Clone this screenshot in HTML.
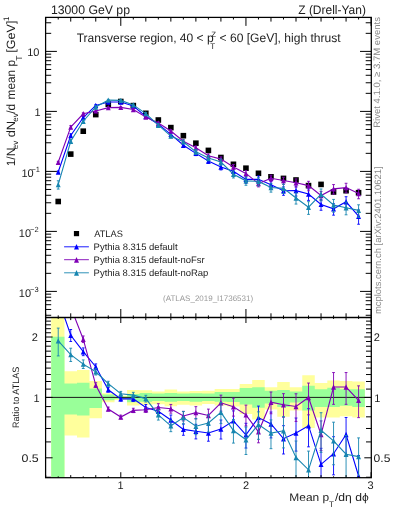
<!DOCTYPE html><html><head><meta charset="utf-8"><style>html,body{margin:0;padding:0;background:#fff;width:393px;height:512px;overflow:hidden}svg{display:block;will-change:transform}text{font-family:"Liberation Sans",sans-serif;text-rendering:geometricPrecision}</style></head><body>
<svg width="393" height="512" viewBox="0 0 393 512">
<defs><clipPath id="cm"><rect x="45.7" y="17.4" width="325.40000000000003" height="300.1"/></clipPath><clipPath id="cr"><rect x="45.7" y="317.5" width="325.40000000000003" height="160.2"/></clipPath></defs>
<g id="ratio" clip-path="url(#cr)">
<path d="M51.20 300.00H64.47V490.00H51.20ZM64.47 371.30H76.99V435.50H64.47ZM76.99 369.90H89.50V437.40H76.99ZM89.50 381.10H102.02V418.20H89.50ZM102.02 393.30H114.53V402.20H102.02ZM114.53 395.80H127.05V399.90H114.53ZM127.05 390.10H139.57V405.40H127.05ZM139.57 390.20H152.08V404.70H139.57ZM152.08 391.40H164.60V404.30H152.08ZM164.60 389.50H177.11V406.20H164.60ZM177.11 391.40H189.63V404.70H177.11ZM189.63 391.00H202.14V405.50H189.63ZM202.14 390.70H214.66V404.00H202.14ZM214.66 389.00H227.17V405.50H214.66ZM227.17 389.00H239.69V406.50H227.17ZM239.69 383.90H252.20V414.10H239.69ZM252.20 380.00H264.72V419.50H252.20ZM264.72 387.30H277.23V409.50H264.72ZM277.23 381.90H289.75V416.70H277.23ZM289.75 387.30H302.27V410.40H289.75ZM302.27 375.20H314.78V428.00H302.27ZM314.78 383.00H327.30V417.40H314.78ZM327.30 380.60H339.81V417.40H327.30ZM339.81 381.10H352.33V416.20H339.81ZM352.33 381.60H364.84V417.40H352.33Z" fill="#ffff9c"/><path d="M51.20 336.80H64.47V490.00H51.20ZM64.47 383.50H76.99V414.40H64.47ZM76.99 382.80H89.50V415.60H76.99ZM89.50 388.60H102.02V408.10H89.50ZM102.02 394.50H114.53V400.30H102.02ZM114.53 396.40H127.05V399.00H114.53ZM127.05 393.90H139.57V402.20H127.05ZM139.57 393.00H152.08V401.70H139.57ZM152.08 393.60H164.60V400.90H152.08ZM164.60 393.00H177.11V401.70H164.60ZM177.11 393.60H189.63V400.90H177.11ZM189.63 393.30H202.14V401.70H189.63ZM202.14 393.60H214.66V401.00H202.14ZM214.66 392.10H227.17V401.70H214.66ZM227.17 392.10H239.69V402.00H227.17ZM239.69 388.00H252.20V404.50H239.69ZM252.20 387.30H264.72V407.70H252.20ZM264.72 390.80H277.23V403.50H264.72ZM277.23 389.90H289.75V406.90H277.23ZM289.75 391.40H302.27V402.40H289.75ZM302.27 385.80H314.78V410.40H302.27ZM314.78 389.30H327.30V406.90H314.78ZM327.30 387.70H339.81V406.90H327.30ZM339.81 389.30H352.33V405.70H339.81ZM352.33 389.30H364.84V406.90H352.33Z" fill="#99ff99"/>
<line x1="45.7" y1="397.4" x2="371.1" y2="397.4" stroke="#1a1a1a" stroke-width="1.0"/>
<polyline points="58.22,298.70 70.73,335.30 83.25,351.70 95.76,366.70 108.28,389.80 120.79,398.90 133.31,398.90 145.82,407.50 158.34,411.30 170.85,420.00 183.37,429.40 195.88,431.30 208.40,433.00 220.92,429.00 233.43,420.90 245.95,434.80 258.46,417.60 270.98,424.00 283.49,438.70 296.01,433.00 308.52,425.70 321.04,464.30 333.55,453.70 346.07,434.50 358.58,476.00" fill="none" stroke="#0000ff" stroke-width="1.1"/><path d="M58.22 295.70V301.81M56.82 295.70H59.62M56.82 301.81H59.62M70.73 329.50V341.51M69.33 329.50H72.13M69.33 341.51H72.13M83.25 347.90V355.67M81.85 347.90H84.65M81.85 355.67H84.65M95.76 363.90V369.59M94.36 363.90H97.16M94.36 369.59H97.16M108.28 387.60V392.06M106.88 387.60H109.68M106.88 392.06H109.68M120.79 396.70V401.16M119.39 396.70H122.19M119.39 401.16H122.19M133.31 396.40V401.47M131.91 396.40H134.71M131.91 401.47H134.71M145.82 404.50V410.61M144.42 404.50H147.22M144.42 410.61H147.22M158.34 406.80V416.05M156.94 406.80H159.74M156.94 416.05H159.74M170.85 415.00V425.30M169.45 415.00H172.25M169.45 425.30H172.25M183.37 423.90V435.27M181.97 423.90H184.77M181.97 435.27H184.77M195.88 424.30V438.91M194.48 424.30H197.28M194.48 438.91H197.28M208.40 425.50V441.21M207.00 425.50H209.80M207.00 441.21H209.80M220.92 420.00V439.04M219.52 420.00H222.32M219.52 439.04H222.32M233.43 410.90V432.20M232.03 410.90H234.83M232.03 432.20H234.83M245.95 423.30V448.05M244.55 423.30H247.35M244.55 448.05H247.35M258.46 406.10V430.85M257.06 406.10H259.86M257.06 430.85H259.86M270.98 412.00V437.92M269.58 412.00H272.38M269.58 437.92H272.38M283.49 425.70V453.99M282.09 425.70H284.89M282.09 453.99H284.89M296.01 418.00V451.13M294.61 418.00H297.41M294.61 451.13H297.41M308.52 408.70V446.84M307.12 408.70H309.92M307.12 446.84H309.92M321.04 448.30V483.91M319.64 448.30H322.44M319.64 483.91H322.44M333.55 436.70V474.84M332.15 436.70H334.95M332.15 474.84H334.95M346.07 417.50V455.64M344.67 417.50H347.47M344.67 455.64H347.47M358.58 455.50V502.86M357.18 455.50H359.98M357.18 502.86H359.98" stroke="#0000ff" stroke-width="0.9" fill="none"/><path d="M58.22 296.00L60.67 301.40L55.77 301.40Z" fill="#0000ff"/><path d="M70.73 332.60L73.18 338.00L68.28 338.00Z" fill="#0000ff"/><path d="M83.25 349.00L85.70 354.40L80.80 354.40Z" fill="#0000ff"/><path d="M95.76 364.00L98.21 369.40L93.31 369.40Z" fill="#0000ff"/><path d="M108.28 387.10L110.73 392.50L105.83 392.50Z" fill="#0000ff"/><path d="M120.79 396.20L123.24 401.60L118.34 401.60Z" fill="#0000ff"/><path d="M133.31 396.20L135.76 401.60L130.86 401.60Z" fill="#0000ff"/><path d="M145.82 404.80L148.27 410.20L143.37 410.20Z" fill="#0000ff"/><path d="M158.34 408.60L160.79 414.00L155.89 414.00Z" fill="#0000ff"/><path d="M170.85 417.30L173.30 422.70L168.40 422.70Z" fill="#0000ff"/><path d="M183.37 426.70L185.82 432.10L180.92 432.10Z" fill="#0000ff"/><path d="M195.88 428.60L198.33 434.00L193.43 434.00Z" fill="#0000ff"/><path d="M208.40 430.30L210.85 435.70L205.95 435.70Z" fill="#0000ff"/><path d="M220.92 426.30L223.37 431.70L218.47 431.70Z" fill="#0000ff"/><path d="M233.43 418.20L235.88 423.60L230.98 423.60Z" fill="#0000ff"/><path d="M245.95 432.10L248.40 437.50L243.50 437.50Z" fill="#0000ff"/><path d="M258.46 414.90L260.91 420.30L256.01 420.30Z" fill="#0000ff"/><path d="M270.98 421.30L273.43 426.70L268.53 426.70Z" fill="#0000ff"/><path d="M283.49 436.00L285.94 441.40L281.04 441.40Z" fill="#0000ff"/><path d="M296.01 430.30L298.46 435.70L293.56 435.70Z" fill="#0000ff"/><path d="M308.52 423.00L310.97 428.40L306.07 428.40Z" fill="#0000ff"/><path d="M321.04 461.60L323.49 467.00L318.59 467.00Z" fill="#0000ff"/><path d="M333.55 451.00L336.00 456.40L331.10 456.40Z" fill="#0000ff"/><path d="M346.07 431.80L348.52 437.20L343.62 437.20Z" fill="#0000ff"/><path d="M358.58 473.30L361.03 478.70L356.13 478.70Z" fill="#0000ff"/>
<polyline points="58.22,266.30 70.73,307.10 83.25,339.20 95.76,385.10 108.28,409.00 120.79,417.00 133.31,410.40 145.82,409.80 158.34,407.50 170.85,408.70 183.37,416.00 195.88,412.60 208.40,415.50 220.92,402.80 233.43,406.70 245.95,414.90 258.46,431.80 270.98,402.20 283.49,404.70 296.01,406.50 308.52,397.50 321.04,434.50 333.55,387.00 346.07,387.00 358.58,400.30" fill="none" stroke="#7f00b5" stroke-width="1.1"/><path d="M58.22 263.30V269.41M56.82 263.30H59.62M56.82 269.41H59.62M70.73 302.17V312.33M69.33 302.17H72.13M69.33 312.33H72.13M83.25 335.97V342.55M81.85 335.97H84.65M81.85 342.55H84.65M95.76 382.72V387.55M94.36 382.72H97.16M94.36 387.55H97.16M108.28 407.13V410.91M106.88 407.13H109.68M106.88 410.91H109.68M120.79 415.13V418.91M119.39 415.13H122.19M119.39 418.91H122.19M133.31 408.27V412.58M131.91 408.27H134.71M131.91 412.58H134.71M145.82 407.25V412.43M144.42 407.25H147.22M144.42 412.43H147.22M158.34 403.68V411.50M156.94 403.68H159.74M156.94 411.50H159.74M170.85 404.45V413.17M169.45 404.45H172.25M169.45 413.17H172.25M183.37 411.32V420.94M181.97 411.32H184.77M181.97 420.94H184.77M195.88 406.65V418.99M194.48 406.65H197.28M194.48 418.99H197.28M208.40 409.12V422.38M207.00 409.12H209.80M207.00 422.38H209.80M220.92 395.15V411.19M219.52 395.15H222.32M219.52 411.19H222.32M233.43 398.20V416.12M232.03 398.20H234.83M232.03 416.12H234.83M245.95 405.12V425.91M244.55 405.12H247.35M244.55 425.91H247.35M258.46 422.03V442.81M257.06 422.03H259.86M257.06 442.81H259.86M270.98 392.00V413.75M269.58 392.00H272.38M269.58 413.75H272.38M283.49 393.65V417.36M282.09 393.65H284.89M282.09 417.36H284.89M296.01 393.75V421.44M294.61 393.75H297.41M294.61 421.44H297.41M308.52 383.05V414.83M307.12 383.05H309.92M307.12 414.83H309.92M321.04 420.90V450.62M319.64 420.90H322.44M319.64 450.62H322.44M333.55 372.55V404.33M332.15 372.55H334.95M332.15 404.33H334.95M346.07 372.55V404.33M344.67 372.55H347.47M344.67 404.33H347.47M358.58 385.85V417.63M357.18 385.85H359.98M357.18 417.63H359.98" stroke="#7f00b5" stroke-width="0.9" fill="none"/><path d="M58.22 263.60L60.67 269.00L55.77 269.00Z" fill="#7f00b5"/><path d="M70.73 304.40L73.18 309.80L68.28 309.80Z" fill="#7f00b5"/><path d="M83.25 336.50L85.70 341.90L80.80 341.90Z" fill="#7f00b5"/><path d="M95.76 382.40L98.21 387.80L93.31 387.80Z" fill="#7f00b5"/><path d="M108.28 406.30L110.73 411.70L105.83 411.70Z" fill="#7f00b5"/><path d="M120.79 414.30L123.24 419.70L118.34 419.70Z" fill="#7f00b5"/><path d="M133.31 407.70L135.76 413.10L130.86 413.10Z" fill="#7f00b5"/><path d="M145.82 407.10L148.27 412.50L143.37 412.50Z" fill="#7f00b5"/><path d="M158.34 404.80L160.79 410.20L155.89 410.20Z" fill="#7f00b5"/><path d="M170.85 406.00L173.30 411.40L168.40 411.40Z" fill="#7f00b5"/><path d="M183.37 413.30L185.82 418.70L180.92 418.70Z" fill="#7f00b5"/><path d="M195.88 409.90L198.33 415.30L193.43 415.30Z" fill="#7f00b5"/><path d="M208.40 412.80L210.85 418.20L205.95 418.20Z" fill="#7f00b5"/><path d="M220.92 400.10L223.37 405.50L218.47 405.50Z" fill="#7f00b5"/><path d="M233.43 404.00L235.88 409.40L230.98 409.40Z" fill="#7f00b5"/><path d="M245.95 412.20L248.40 417.60L243.50 417.60Z" fill="#7f00b5"/><path d="M258.46 429.10L260.91 434.50L256.01 434.50Z" fill="#7f00b5"/><path d="M270.98 399.50L273.43 404.90L268.53 404.90Z" fill="#7f00b5"/><path d="M283.49 402.00L285.94 407.40L281.04 407.40Z" fill="#7f00b5"/><path d="M296.01 403.80L298.46 409.20L293.56 409.20Z" fill="#7f00b5"/><path d="M308.52 394.80L310.97 400.20L306.07 400.20Z" fill="#7f00b5"/><path d="M321.04 431.80L323.49 437.20L318.59 437.20Z" fill="#7f00b5"/><path d="M333.55 384.30L336.00 389.70L331.10 389.70Z" fill="#7f00b5"/><path d="M346.07 384.30L348.52 389.70L343.62 389.70Z" fill="#7f00b5"/><path d="M358.58 397.60L361.03 403.00L356.13 403.00Z" fill="#7f00b5"/>
<polyline points="58.22,340.90 70.73,354.60 83.25,364.10 95.76,371.80 108.28,383.70 120.79,393.80 133.31,395.10 145.82,398.60 158.34,414.80 170.85,425.80 183.37,417.60 195.88,426.20 208.40,423.00 220.92,412.40 233.43,430.50 245.95,439.70 258.46,424.50 270.98,433.10 283.49,430.80 296.01,457.50 308.52,469.80 321.04,430.30 333.55,440.90 346.07,454.20 358.58,456.60" fill="none" stroke="#1786b0" stroke-width="1.1"/><path d="M58.22 328.10V355.91M56.82 328.10H59.62M56.82 355.91H59.62M70.73 348.22V361.48M69.33 348.22H72.13M69.33 361.48H72.13M83.25 359.92V368.49M81.85 359.92H84.65M81.85 368.49H84.65M95.76 368.72V374.99M94.36 368.72H97.16M94.36 374.99H97.16M108.28 381.28V386.19M106.88 381.28H109.68M106.88 386.19H109.68M120.79 391.38V396.29M119.39 391.38H122.19M119.39 396.29H122.19M133.31 392.35V397.94M131.91 392.35H134.71M131.91 397.94H134.71M145.82 395.30V402.03M144.42 395.30H147.22M144.42 402.03H147.22M158.34 409.85V420.05M156.94 409.85H159.74M156.94 420.05H159.74M170.85 420.30V431.67M169.45 420.30H172.25M169.45 431.67H172.25M183.37 411.55V424.10M181.97 411.55H184.77M181.97 424.10H184.77M195.88 418.50V434.65M194.48 418.50H197.28M194.48 434.65H197.28M208.40 414.75V432.11M207.00 414.75H209.80M207.00 432.11H209.80M220.92 402.50V423.57M219.52 402.50H222.32M219.52 423.57H222.32M233.43 419.50V443.09M232.03 419.50H234.83M232.03 443.09H234.83M245.95 427.05V454.50M244.55 427.05H247.35M244.55 454.50H247.35M258.46 411.85V439.30M257.06 411.85H259.86M257.06 439.30H259.86M270.98 419.90V448.66M269.58 419.90H272.38M269.58 448.66H272.38M283.49 416.50V447.92M282.09 416.50H284.89M282.09 447.92H284.89M296.01 441.00V477.87M294.61 441.00H297.41M294.61 477.87H297.41M308.52 451.10V493.64M307.12 451.10H309.92M307.12 493.64H309.92M321.04 412.70V452.38M319.64 412.70H322.44M319.64 452.38H322.44M333.55 422.20V464.74M332.15 422.20H334.95M332.15 464.74H334.95M346.07 435.50V478.04M344.67 435.50H347.47M344.67 478.04H347.47M358.58 437.90V480.44M357.18 437.90H359.98M357.18 480.44H359.98" stroke="#1786b0" stroke-width="0.9" fill="none"/><path d="M58.22 338.20L60.67 343.60L55.77 343.60Z" fill="#1786b0"/><path d="M70.73 351.90L73.18 357.30L68.28 357.30Z" fill="#1786b0"/><path d="M83.25 361.40L85.70 366.80L80.80 366.80Z" fill="#1786b0"/><path d="M95.76 369.10L98.21 374.50L93.31 374.50Z" fill="#1786b0"/><path d="M108.28 381.00L110.73 386.40L105.83 386.40Z" fill="#1786b0"/><path d="M120.79 391.10L123.24 396.50L118.34 396.50Z" fill="#1786b0"/><path d="M133.31 392.40L135.76 397.80L130.86 397.80Z" fill="#1786b0"/><path d="M145.82 395.90L148.27 401.30L143.37 401.30Z" fill="#1786b0"/><path d="M158.34 412.10L160.79 417.50L155.89 417.50Z" fill="#1786b0"/><path d="M170.85 423.10L173.30 428.50L168.40 428.50Z" fill="#1786b0"/><path d="M183.37 414.90L185.82 420.30L180.92 420.30Z" fill="#1786b0"/><path d="M195.88 423.50L198.33 428.90L193.43 428.90Z" fill="#1786b0"/><path d="M208.40 420.30L210.85 425.70L205.95 425.70Z" fill="#1786b0"/><path d="M220.92 409.70L223.37 415.10L218.47 415.10Z" fill="#1786b0"/><path d="M233.43 427.80L235.88 433.20L230.98 433.20Z" fill="#1786b0"/><path d="M245.95 437.00L248.40 442.40L243.50 442.40Z" fill="#1786b0"/><path d="M258.46 421.80L260.91 427.20L256.01 427.20Z" fill="#1786b0"/><path d="M270.98 430.40L273.43 435.80L268.53 435.80Z" fill="#1786b0"/><path d="M283.49 428.10L285.94 433.50L281.04 433.50Z" fill="#1786b0"/><path d="M296.01 454.80L298.46 460.20L293.56 460.20Z" fill="#1786b0"/><path d="M308.52 467.10L310.97 472.50L306.07 472.50Z" fill="#1786b0"/><path d="M321.04 427.60L323.49 433.00L318.59 433.00Z" fill="#1786b0"/><path d="M333.55 438.20L336.00 443.60L331.10 443.60Z" fill="#1786b0"/><path d="M346.07 451.50L348.52 456.90L343.62 456.90Z" fill="#1786b0"/><path d="M358.58 453.90L361.03 459.30L356.13 459.30Z" fill="#1786b0"/>
</g>
<g id="main" clip-path="url(#cm)">
<rect x="55.42" y="198.70" width="5.6" height="5.6" fill="#000"/>
<rect x="67.93" y="151.30" width="5.6" height="5.6" fill="#000"/>
<rect x="80.45" y="128.40" width="5.6" height="5.6" fill="#000"/>
<rect x="92.96" y="111.80" width="5.6" height="5.6" fill="#000"/>
<rect x="105.48" y="101.40" width="5.6" height="5.6" fill="#000"/>
<rect x="117.99" y="98.70" width="5.6" height="5.6" fill="#000"/>
<rect x="130.51" y="102.80" width="5.6" height="5.6" fill="#000"/>
<rect x="143.02" y="110.50" width="5.6" height="5.6" fill="#000"/>
<rect x="155.54" y="117.20" width="5.6" height="5.6" fill="#000"/>
<rect x="168.05" y="124.80" width="5.6" height="5.6" fill="#000"/>
<rect x="180.57" y="132.90" width="5.6" height="5.6" fill="#000"/>
<rect x="193.08" y="140.40" width="5.6" height="5.6" fill="#000"/>
<rect x="205.60" y="147.60" width="5.6" height="5.6" fill="#000"/>
<rect x="218.12" y="154.70" width="5.6" height="5.6" fill="#000"/>
<rect x="230.63" y="161.50" width="5.6" height="5.6" fill="#000"/>
<rect x="243.15" y="165.40" width="5.6" height="5.6" fill="#000"/>
<rect x="255.66" y="170.50" width="5.6" height="5.6" fill="#000"/>
<rect x="268.18" y="174.00" width="5.6" height="5.6" fill="#000"/>
<rect x="280.69" y="175.60" width="5.6" height="5.6" fill="#000"/>
<rect x="293.21" y="177.20" width="5.6" height="5.6" fill="#000"/>
<rect x="305.72" y="182.80" width="5.6" height="5.6" fill="#000"/>
<rect x="318.24" y="181.60" width="5.6" height="5.6" fill="#000"/>
<rect x="330.75" y="189.20" width="5.6" height="5.6" fill="#000"/>
<rect x="343.27" y="187.90" width="5.6" height="5.6" fill="#000"/>
<rect x="355.78" y="189.90" width="5.6" height="5.6" fill="#000"/>
<polyline points="58.22,171.99 70.73,135.53 83.25,117.53 95.76,105.42 108.28,101.93 120.79,101.95 133.31,106.05 145.82,116.32 158.34,124.16 170.85,134.36 183.37,145.27 195.88,153.34 208.40,161.05 220.92,166.95 233.43,171.33 245.95,179.38 258.46,179.34 270.98,184.75 283.49,190.75 296.01,190.65 308.52,194.06 321.04,204.41 333.55,208.84 346.07,201.79 358.58,216.20" fill="none" stroke="#0000ff" stroke-width="1.1"/><path d="M58.22 171.09V172.91M56.82 171.09H59.62M56.82 172.91H59.62M70.73 133.80V137.39M69.33 133.80H72.13M69.33 137.39H72.13M83.25 116.40V118.72M81.85 116.40H84.65M81.85 118.72H84.65M95.76 104.58V106.28M94.36 104.58H97.16M94.36 106.28H97.16M108.28 101.27V102.60M106.88 101.27H109.68M106.88 102.60H109.68M120.79 101.29V102.62M119.39 101.29H122.19M119.39 102.62H122.19M133.31 105.30V106.82M131.91 105.30H134.71M131.91 106.82H134.71M145.82 115.42V117.25M144.42 115.42H147.22M144.42 117.25H147.22M158.34 122.81V125.58M156.94 122.81H159.74M156.94 125.58H159.74M170.85 132.86V135.94M169.45 132.86H172.25M169.45 135.94H172.25M183.37 143.62V147.02M181.97 143.62H184.77M181.97 147.02H184.77M195.88 151.24V155.61M194.48 151.24H197.28M194.48 155.61H197.28M208.40 158.80V163.50M207.00 158.80H209.80M207.00 163.50H209.80M220.92 164.26V169.95M219.52 164.26H222.32M219.52 169.95H222.32M233.43 168.34V174.71M232.03 168.34H234.83M232.03 174.71H234.83M245.95 175.95V183.35M244.55 175.95H247.35M244.55 183.35H247.35M258.46 175.90V183.30M257.06 175.90H259.86M257.06 183.30H259.86M270.98 181.17V188.92M269.58 181.17H272.38M269.58 188.92H272.38M283.49 186.86V195.32M282.09 186.86H284.89M282.09 195.32H284.89M296.01 186.16V196.07M294.61 186.16H297.41M294.61 196.07H297.41M308.52 188.98V200.38M307.12 188.98H309.92M307.12 200.38H309.92M321.04 199.62V210.27M319.64 199.62H322.44M319.64 210.27H322.44M333.55 203.75V215.16M332.15 203.75H334.95M332.15 215.16H334.95M346.07 196.71V208.12M344.67 196.71H347.47M344.67 208.12H347.47M358.58 210.07V224.24M357.18 210.07H359.98M357.18 224.24H359.98" stroke="#0000ff" stroke-width="0.9" fill="none"/><path d="M58.22 169.29L60.67 174.69L55.77 174.69Z" fill="#0000ff"/><path d="M70.73 132.83L73.18 138.23L68.28 138.23Z" fill="#0000ff"/><path d="M83.25 114.83L85.70 120.23L80.80 120.23Z" fill="#0000ff"/><path d="M95.76 102.72L98.21 108.12L93.31 108.12Z" fill="#0000ff"/><path d="M108.28 99.23L110.73 104.63L105.83 104.63Z" fill="#0000ff"/><path d="M120.79 99.25L123.24 104.65L118.34 104.65Z" fill="#0000ff"/><path d="M133.31 103.35L135.76 108.75L130.86 108.75Z" fill="#0000ff"/><path d="M145.82 113.62L148.27 119.02L143.37 119.02Z" fill="#0000ff"/><path d="M158.34 121.46L160.79 126.86L155.89 126.86Z" fill="#0000ff"/><path d="M170.85 131.66L173.30 137.06L168.40 137.06Z" fill="#0000ff"/><path d="M183.37 142.57L185.82 147.97L180.92 147.97Z" fill="#0000ff"/><path d="M195.88 150.64L198.33 156.04L193.43 156.04Z" fill="#0000ff"/><path d="M208.40 158.35L210.85 163.75L205.95 163.75Z" fill="#0000ff"/><path d="M220.92 164.25L223.37 169.65L218.47 169.65Z" fill="#0000ff"/><path d="M233.43 168.63L235.88 174.03L230.98 174.03Z" fill="#0000ff"/><path d="M245.95 176.68L248.40 182.08L243.50 182.08Z" fill="#0000ff"/><path d="M258.46 176.64L260.91 182.04L256.01 182.04Z" fill="#0000ff"/><path d="M270.98 182.05L273.43 187.45L268.53 187.45Z" fill="#0000ff"/><path d="M283.49 188.05L285.94 193.45L281.04 193.45Z" fill="#0000ff"/><path d="M296.01 187.95L298.46 193.35L293.56 193.35Z" fill="#0000ff"/><path d="M308.52 191.36L310.97 196.76L306.07 196.76Z" fill="#0000ff"/><path d="M321.04 201.71L323.49 207.11L318.59 207.11Z" fill="#0000ff"/><path d="M333.55 206.14L336.00 211.54L331.10 211.54Z" fill="#0000ff"/><path d="M346.07 199.09L348.52 204.49L343.62 204.49Z" fill="#0000ff"/><path d="M358.58 213.50L361.03 218.90L356.13 218.90Z" fill="#0000ff"/>
<polyline points="58.22,162.30 70.73,127.10 83.25,113.80 95.76,110.92 108.28,107.67 120.79,107.36 133.31,109.49 145.82,117.01 158.34,123.02 170.85,130.98 183.37,141.26 195.88,147.75 208.40,155.81 220.92,159.11 233.43,167.08 245.95,173.43 258.46,183.59 270.98,178.24 283.49,180.58 296.01,182.72 308.52,185.63 321.04,195.49 333.55,188.89 346.07,187.59 358.58,193.57" fill="none" stroke="#7f00b5" stroke-width="1.1"/><path d="M58.22 161.40V163.23M56.82 161.40H59.62M56.82 163.23H59.62M70.73 125.62V128.66M69.33 125.62H72.13M69.33 128.66H72.13M83.25 112.83V114.80M81.85 112.83H84.65M81.85 114.80H84.65M95.76 110.21V111.65M94.36 110.21H97.16M94.36 111.65H97.16M108.28 107.11V108.24M106.88 107.11H109.68M106.88 108.24H109.68M120.79 106.80V107.93M119.39 106.80H122.19M119.39 107.93H122.19M133.31 108.85V110.14M131.91 108.85H134.71M131.91 110.14H134.71M145.82 116.25V117.79M144.42 116.25H147.22M144.42 117.79H147.22M158.34 121.88V124.22M156.94 121.88H159.74M156.94 124.22H159.74M170.85 129.71V132.32M169.45 129.71H172.25M169.45 132.32H172.25M183.37 139.86V142.74M181.97 139.86H184.77M181.97 142.74H184.77M195.88 145.97V149.66M194.48 145.97H197.28M194.48 149.66H197.28M208.40 153.91V157.87M207.00 153.91H209.80M207.00 157.87H209.80M220.92 156.83V161.62M219.52 156.83H222.32M219.52 161.62H222.32M233.43 164.54V169.90M232.03 164.54H234.83M232.03 169.90H234.83M245.95 170.51V176.73M244.55 170.51H247.35M244.55 176.73H247.35M258.46 180.66V186.88M257.06 180.66H259.86M257.06 186.88H259.86M270.98 175.19V181.69M269.58 175.19H272.38M269.58 181.69H272.38M283.49 177.28V184.37M282.09 177.28H284.89M282.09 184.37H284.89M296.01 178.91V187.19M294.61 178.91H297.41M294.61 187.19H297.41M308.52 181.31V190.81M307.12 181.31H309.92M307.12 190.81H309.92M321.04 191.43V200.32M319.64 191.43H322.44M319.64 200.32H322.44M333.55 184.57V194.07M332.15 184.57H334.95M332.15 194.07H334.95M346.07 183.27V192.77M344.67 183.27H347.47M344.67 192.77H347.47M358.58 189.25V198.75M357.18 189.25H359.98M357.18 198.75H359.98" stroke="#7f00b5" stroke-width="0.9" fill="none"/><path d="M58.22 159.60L60.67 165.00L55.77 165.00Z" fill="#7f00b5"/><path d="M70.73 124.40L73.18 129.80L68.28 129.80Z" fill="#7f00b5"/><path d="M83.25 111.10L85.70 116.50L80.80 116.50Z" fill="#7f00b5"/><path d="M95.76 108.22L98.21 113.62L93.31 113.62Z" fill="#7f00b5"/><path d="M108.28 104.97L110.73 110.37L105.83 110.37Z" fill="#7f00b5"/><path d="M120.79 104.66L123.24 110.06L118.34 110.06Z" fill="#7f00b5"/><path d="M133.31 106.79L135.76 112.19L130.86 112.19Z" fill="#7f00b5"/><path d="M145.82 114.31L148.27 119.71L143.37 119.71Z" fill="#7f00b5"/><path d="M158.34 120.32L160.79 125.72L155.89 125.72Z" fill="#7f00b5"/><path d="M170.85 128.28L173.30 133.68L168.40 133.68Z" fill="#7f00b5"/><path d="M183.37 138.56L185.82 143.96L180.92 143.96Z" fill="#7f00b5"/><path d="M195.88 145.05L198.33 150.45L193.43 150.45Z" fill="#7f00b5"/><path d="M208.40 153.11L210.85 158.51L205.95 158.51Z" fill="#7f00b5"/><path d="M220.92 156.41L223.37 161.81L218.47 161.81Z" fill="#7f00b5"/><path d="M233.43 164.38L235.88 169.78L230.98 169.78Z" fill="#7f00b5"/><path d="M245.95 170.73L248.40 176.13L243.50 176.13Z" fill="#7f00b5"/><path d="M258.46 180.89L260.91 186.29L256.01 186.29Z" fill="#7f00b5"/><path d="M270.98 175.54L273.43 180.94L268.53 180.94Z" fill="#7f00b5"/><path d="M283.49 177.88L285.94 183.28L281.04 183.28Z" fill="#7f00b5"/><path d="M296.01 180.02L298.46 185.42L293.56 185.42Z" fill="#7f00b5"/><path d="M308.52 182.93L310.97 188.33L306.07 188.33Z" fill="#7f00b5"/><path d="M321.04 192.79L323.49 198.19L318.59 198.19Z" fill="#7f00b5"/><path d="M333.55 186.19L336.00 191.59L331.10 191.59Z" fill="#7f00b5"/><path d="M346.07 184.89L348.52 190.29L343.62 190.29Z" fill="#7f00b5"/><path d="M358.58 190.87L361.03 196.27L356.13 196.27Z" fill="#7f00b5"/>
<polyline points="58.22,184.60 70.73,141.30 83.25,121.24 95.76,106.94 108.28,100.10 120.79,100.42 133.31,104.91 145.82,113.66 158.34,125.20 170.85,136.09 183.37,141.74 195.88,151.81 208.40,158.06 220.92,161.99 233.43,174.20 245.95,180.85 258.46,181.40 270.98,187.48 283.49,188.39 296.01,197.97 308.52,207.25 321.04,194.24 333.55,205.01 346.07,207.69 358.58,210.40" fill="none" stroke="#1786b0" stroke-width="1.1"/><path d="M58.22 180.78V189.09M56.82 180.78H59.62M56.82 189.09H59.62M70.73 139.39V143.36M69.33 139.39H72.13M69.33 143.36H72.13M83.25 119.99V122.56M81.85 119.99H84.65M81.85 122.56H84.65M95.76 106.02V107.90M94.36 106.02H97.16M94.36 107.90H97.16M108.28 99.38V100.85M106.88 99.38H109.68M106.88 100.85H109.68M120.79 99.70V101.17M119.39 99.70H122.19M119.39 101.17H122.19M133.31 104.09V105.76M131.91 104.09H134.71M131.91 105.76H134.71M145.82 112.67V114.68M144.42 112.67H147.22M144.42 114.68H147.22M158.34 123.72V126.77M156.94 123.72H159.74M156.94 126.77H159.74M170.85 134.45V137.85M169.45 134.45H172.25M169.45 137.85H172.25M183.37 139.93V143.68M181.97 139.93H184.77M181.97 143.68H184.77M195.88 149.51V154.34M194.48 149.51H197.28M194.48 154.34H197.28M208.40 155.59V160.78M207.00 155.59H209.80M207.00 160.78H209.80M220.92 159.03V165.33M219.52 159.03H222.32M219.52 165.33H222.32M233.43 170.91V177.96M232.03 170.91H234.83M232.03 177.96H234.83M245.95 177.07V185.28M244.55 177.07H247.35M244.55 185.28H247.35M258.46 177.62V185.83M257.06 177.62H259.86M257.06 185.83H259.86M270.98 183.53V192.13M269.58 183.53H272.38M269.58 192.13H272.38M283.49 184.11V193.51M282.09 184.11H284.89M282.09 193.51H284.89M296.01 193.04V204.06M294.61 193.04H297.41M294.61 204.06H297.41M308.52 201.66V214.38M307.12 201.66H309.92M307.12 214.38H309.92M321.04 188.98V200.84M319.64 188.98H322.44M319.64 200.84H322.44M333.55 199.42V212.14M332.15 199.42H334.95M332.15 212.14H334.95M346.07 202.09V214.81M344.67 202.09H347.47M344.67 214.81H347.47M358.58 204.81V217.53M357.18 204.81H359.98M357.18 217.53H359.98" stroke="#1786b0" stroke-width="0.9" fill="none"/><path d="M58.22 181.90L60.67 187.30L55.77 187.30Z" fill="#1786b0"/><path d="M70.73 138.60L73.18 144.00L68.28 144.00Z" fill="#1786b0"/><path d="M83.25 118.54L85.70 123.94L80.80 123.94Z" fill="#1786b0"/><path d="M95.76 104.24L98.21 109.64L93.31 109.64Z" fill="#1786b0"/><path d="M108.28 97.40L110.73 102.80L105.83 102.80Z" fill="#1786b0"/><path d="M120.79 97.72L123.24 103.12L118.34 103.12Z" fill="#1786b0"/><path d="M133.31 102.21L135.76 107.61L130.86 107.61Z" fill="#1786b0"/><path d="M145.82 110.96L148.27 116.36L143.37 116.36Z" fill="#1786b0"/><path d="M158.34 122.50L160.79 127.90L155.89 127.90Z" fill="#1786b0"/><path d="M170.85 133.39L173.30 138.79L168.40 138.79Z" fill="#1786b0"/><path d="M183.37 139.04L185.82 144.44L180.92 144.44Z" fill="#1786b0"/><path d="M195.88 149.11L198.33 154.51L193.43 154.51Z" fill="#1786b0"/><path d="M208.40 155.36L210.85 160.76L205.95 160.76Z" fill="#1786b0"/><path d="M220.92 159.29L223.37 164.69L218.47 164.69Z" fill="#1786b0"/><path d="M233.43 171.50L235.88 176.90L230.98 176.90Z" fill="#1786b0"/><path d="M245.95 178.15L248.40 183.55L243.50 183.55Z" fill="#1786b0"/><path d="M258.46 178.70L260.91 184.10L256.01 184.10Z" fill="#1786b0"/><path d="M270.98 184.78L273.43 190.18L268.53 190.18Z" fill="#1786b0"/><path d="M283.49 185.69L285.94 191.09L281.04 191.09Z" fill="#1786b0"/><path d="M296.01 195.27L298.46 200.67L293.56 200.67Z" fill="#1786b0"/><path d="M308.52 204.55L310.97 209.95L306.07 209.95Z" fill="#1786b0"/><path d="M321.04 191.54L323.49 196.94L318.59 196.94Z" fill="#1786b0"/><path d="M333.55 202.31L336.00 207.71L331.10 207.71Z" fill="#1786b0"/><path d="M346.07 204.99L348.52 210.39L343.62 210.39Z" fill="#1786b0"/><path d="M358.58 207.70L361.03 213.10L356.13 213.10Z" fill="#1786b0"/>
</g>
<g id="frame">
<rect x="45.6" y="17.4" width="325.7" height="300.1" fill="none" stroke="#000" stroke-width="1.25"/>
<rect x="45.6" y="317.5" width="325.7" height="160.2" fill="none" stroke="#000" stroke-width="1.25"/>
<path d="M45.70 17.4v4.2M45.70 317.5v-4.2M45.70 317.5v2.6M45.70 477.7v-2.6M58.22 17.4v2.1M58.22 317.5v-2.1M58.22 317.5v1.4M58.22 477.7v-1.4M70.73 17.4v4.2M70.73 317.5v-4.2M70.73 317.5v2.6M70.73 477.7v-2.6M83.25 17.4v2.1M83.25 317.5v-2.1M83.25 317.5v1.4M83.25 477.7v-1.4M95.76 17.4v4.2M95.76 317.5v-4.2M95.76 317.5v2.6M95.76 477.7v-2.6M108.28 17.4v2.1M108.28 317.5v-2.1M108.28 317.5v1.4M108.28 477.7v-1.4M120.79 17.4v8.5M120.79 317.5v-8.5M120.79 317.5v5.5M120.79 477.7v-5.5M133.31 17.4v2.1M133.31 317.5v-2.1M133.31 317.5v1.4M133.31 477.7v-1.4M145.82 17.4v4.2M145.82 317.5v-4.2M145.82 317.5v2.6M145.82 477.7v-2.6M158.34 17.4v2.1M158.34 317.5v-2.1M158.34 317.5v1.4M158.34 477.7v-1.4M170.85 17.4v4.2M170.85 317.5v-4.2M170.85 317.5v2.6M170.85 477.7v-2.6M183.37 17.4v2.1M183.37 317.5v-2.1M183.37 317.5v1.4M183.37 477.7v-1.4M195.88 17.4v4.2M195.88 317.5v-4.2M195.88 317.5v2.6M195.88 477.7v-2.6M208.40 17.4v2.1M208.40 317.5v-2.1M208.40 317.5v1.4M208.40 477.7v-1.4M220.92 17.4v4.2M220.92 317.5v-4.2M220.92 317.5v2.6M220.92 477.7v-2.6M233.43 17.4v2.1M233.43 317.5v-2.1M233.43 317.5v1.4M233.43 477.7v-1.4M245.95 17.4v8.5M245.95 317.5v-8.5M245.95 317.5v5.5M245.95 477.7v-5.5M258.46 17.4v2.1M258.46 317.5v-2.1M258.46 317.5v1.4M258.46 477.7v-1.4M270.98 17.4v4.2M270.98 317.5v-4.2M270.98 317.5v2.6M270.98 477.7v-2.6M283.49 17.4v2.1M283.49 317.5v-2.1M283.49 317.5v1.4M283.49 477.7v-1.4M296.01 17.4v4.2M296.01 317.5v-4.2M296.01 317.5v2.6M296.01 477.7v-2.6M308.52 17.4v2.1M308.52 317.5v-2.1M308.52 317.5v1.4M308.52 477.7v-1.4M321.04 17.4v4.2M321.04 317.5v-4.2M321.04 317.5v2.6M321.04 477.7v-2.6M333.55 17.4v2.1M333.55 317.5v-2.1M333.55 317.5v1.4M333.55 477.7v-1.4M346.07 17.4v4.2M346.07 317.5v-4.2M346.07 317.5v2.6M346.07 477.7v-2.6M358.58 17.4v2.1M358.58 317.5v-2.1M358.58 317.5v1.4M358.58 477.7v-1.4M371.10 17.4v8.5M371.10 317.5v-8.5M371.10 317.5v5.5M371.10 477.7v-5.5M45.6 315.28h5.6M371.3 315.28h-5.6M45.6 309.46h5.6M371.3 309.46h-5.6M45.6 304.71h5.6M371.3 304.71h-5.6M45.6 300.69h5.6M371.3 300.69h-5.6M45.6 297.21h5.6M371.3 297.21h-5.6M45.6 294.15h5.6M371.3 294.15h-5.6M45.6 291.40h11.3M371.3 291.40h-11.3M45.6 273.34h5.6M371.3 273.34h-5.6M45.6 262.77h5.6M371.3 262.77h-5.6M45.6 255.28h5.6M371.3 255.28h-5.6M45.6 249.46h5.6M371.3 249.46h-5.6M45.6 244.71h5.6M371.3 244.71h-5.6M45.6 240.69h5.6M371.3 240.69h-5.6M45.6 237.21h5.6M371.3 237.21h-5.6M45.6 234.15h5.6M371.3 234.15h-5.6M45.6 231.40h11.3M371.3 231.40h-11.3M45.6 213.34h5.6M371.3 213.34h-5.6M45.6 202.77h5.6M371.3 202.77h-5.6M45.6 195.28h5.6M371.3 195.28h-5.6M45.6 189.46h5.6M371.3 189.46h-5.6M45.6 184.71h5.6M371.3 184.71h-5.6M45.6 180.69h5.6M371.3 180.69h-5.6M45.6 177.21h5.6M371.3 177.21h-5.6M45.6 174.15h5.6M371.3 174.15h-5.6M45.6 171.40h11.3M371.3 171.40h-11.3M45.6 153.34h5.6M371.3 153.34h-5.6M45.6 142.77h5.6M371.3 142.77h-5.6M45.6 135.28h5.6M371.3 135.28h-5.6M45.6 129.46h5.6M371.3 129.46h-5.6M45.6 124.71h5.6M371.3 124.71h-5.6M45.6 120.69h5.6M371.3 120.69h-5.6M45.6 117.21h5.6M371.3 117.21h-5.6M45.6 114.15h5.6M371.3 114.15h-5.6M45.6 111.40h11.3M371.3 111.40h-11.3M45.6 93.34h5.6M371.3 93.34h-5.6M45.6 82.77h5.6M371.3 82.77h-5.6M45.6 75.28h5.6M371.3 75.28h-5.6M45.6 69.46h5.6M371.3 69.46h-5.6M45.6 64.71h5.6M371.3 64.71h-5.6M45.6 60.69h5.6M371.3 60.69h-5.6M45.6 57.21h5.6M371.3 57.21h-5.6M45.6 54.15h5.6M371.3 54.15h-5.6M45.6 51.40h11.3M371.3 51.40h-11.3M45.6 33.34h5.6M371.3 33.34h-5.6M45.6 22.77h5.6M371.3 22.77h-5.6M45.6 477.24h5.3M371.3 477.24h-5.3M45.6 457.80h7.0M371.3 457.80h-7.0M45.6 441.91h5.3M371.3 441.91h-5.3M45.6 428.48h5.3M371.3 428.48h-5.3M45.6 416.84h5.3M371.3 416.84h-5.3M45.6 406.58h5.3M371.3 406.58h-5.3M45.6 397.40h7.0M371.3 397.40h-7.0M45.6 389.09h5.3M371.3 389.09h-5.3M45.6 381.51h5.3M371.3 381.51h-5.3M45.6 374.54h5.3M371.3 374.54h-5.3M45.6 368.08h5.3M371.3 368.08h-5.3M45.6 362.07h5.3M371.3 362.07h-5.3M45.6 356.44h5.3M371.3 356.44h-5.3M45.6 351.16h5.3M371.3 351.16h-5.3M45.6 346.18h5.3M371.3 346.18h-5.3M45.6 341.47h5.3M371.3 341.47h-5.3M45.6 337.00h7.0M371.3 337.00h-7.0M45.6 332.75h5.3M371.3 332.75h-5.3M45.6 328.69h5.3M371.3 328.69h-5.3M45.6 324.82h5.3M371.3 324.82h-5.3M45.6 321.11h5.3M371.3 321.11h-5.3M45.6 317.56h5.3M371.3 317.56h-5.3" stroke="#000" stroke-width="1" fill="none"/>
</g>
<g id="texts">
<text id="t13000" x="50.92" y="13.95" font-size="12.4" fill="#1c1c1c" textLength="79.08" lengthAdjust="spacingAndGlyphs">13000 GeV pp</text>
<text id="tZ" x="298.24" y="13.95" font-size="12.4" fill="#1c1c1c" textLength="67.65" lengthAdjust="spacingAndGlyphs">Z (Drell-Yan)</text>
<text id="title1" x="76.73" y="41.85" font-size="12.3" fill="#1c1c1c" textLength="136.85" lengthAdjust="spacingAndGlyphs">Transverse region, 40 &lt; p</text>
<text id="titleZ" x="211.13" y="36.50" font-size="7.8" fill="#1c1c1c" textLength="4.76" lengthAdjust="spacingAndGlyphs">Z</text>
<text id="titleT" x="210.35" y="48.70" font-size="8.0" fill="#1c1c1c" textLength="4.89" lengthAdjust="spacingAndGlyphs">T</text>
<text id="title2" x="219.55" y="41.85" font-size="12.3" fill="#1c1c1c" textLength="121.09" lengthAdjust="spacingAndGlyphs">&lt; 60 [GeV], high thrust</text>
<text id="lg1" x="94.21" y="236.70" font-size="9.4" fill="#1c1c1c" textLength="28.60" lengthAdjust="spacingAndGlyphs">ATLAS</text>
<text id="lg2" x="93.60" y="249.50" font-size="9.4" fill="#1c1c1c" textLength="84.02" lengthAdjust="spacingAndGlyphs">Pythia 8.315 default</text>
<text id="lg3" x="93.60" y="262.70" font-size="9.4" fill="#1c1c1c" textLength="111.02" lengthAdjust="spacingAndGlyphs">Pythia 8.315 default-noFsr</text>
<text id="lg4" x="93.60" y="275.60" font-size="9.4" fill="#1c1c1c" textLength="114.80" lengthAdjust="spacingAndGlyphs">Pythia 8.315 default-noRap</text>
<text id="anal" x="163.05" y="301.30" font-size="8" fill="#999" textLength="90.07" lengthAdjust="spacingAndGlyphs">(ATLAS_2019_I1736531)</text>
<text id="y10" x="27.16" y="56.00" font-size="11" fill="#1c1c1c" textLength="12.24" lengthAdjust="spacingAndGlyphs">10</text>
<text id="y1" x="34.62" y="116.00" font-size="11" fill="#1c1c1c" textLength="6.12" lengthAdjust="spacingAndGlyphs">1</text>
<text id="y10m1" x="21.47" y="176.90" font-size="11" fill="#1c1c1c" textLength="12.24" lengthAdjust="spacingAndGlyphs">10</text>
<text id="y10s1" x="31.47" y="172.00" font-size="7.5" fill="#1c1c1c" textLength="8.55" lengthAdjust="spacingAndGlyphs">−1</text>
<text id="y10m2" x="18.85" y="236.90" font-size="11" fill="#1c1c1c" textLength="12.24" lengthAdjust="spacingAndGlyphs">10</text>
<text id="y10s2" x="30.08" y="232.00" font-size="7.5" fill="#1c1c1c" textLength="8.55" lengthAdjust="spacingAndGlyphs">−2</text>
<text id="y10m3" x="18.85" y="296.90" font-size="11" fill="#1c1c1c" textLength="12.24" lengthAdjust="spacingAndGlyphs">10</text>
<text id="y10s3" x="30.08" y="292.00" font-size="7.5" fill="#1c1c1c" textLength="8.55" lengthAdjust="spacingAndGlyphs">−3</text>
<text id="r2" x="31.76" y="341.00" font-size="11" fill="#1c1c1c" textLength="6.12" lengthAdjust="spacingAndGlyphs">2</text>
<text id="r1" x="33.54" y="402.10" font-size="11" fill="#1c1c1c" textLength="6.12" lengthAdjust="spacingAndGlyphs">1</text>
<text id="r05" x="21.52" y="462.10" font-size="11" fill="#1c1c1c" textLength="17.25" lengthAdjust="spacingAndGlyphs">0.5</text>
<text id="rr2" x="373.65" y="341.00" font-size="11" fill="#1c1c1c" textLength="6.12" lengthAdjust="spacingAndGlyphs">2</text>
<text id="rr1" x="374.16" y="402.40" font-size="11" fill="#1c1c1c" textLength="6.12" lengthAdjust="spacingAndGlyphs">1</text>
<text id="rr05" x="373.63" y="462.20" font-size="11" fill="#1c1c1c" textLength="16.78" lengthAdjust="spacingAndGlyphs">0.5</text>
<text id="x1" x="117.62" y="488.70" font-size="11" fill="#1c1c1c" textLength="6.12" lengthAdjust="spacingAndGlyphs">1</text>
<text id="x2" x="243.07" y="488.70" font-size="11" fill="#1c1c1c" textLength="6.12" lengthAdjust="spacingAndGlyphs">2</text>
<text id="x3" x="367.50" y="488.70" font-size="11" fill="#1c1c1c" textLength="6.12" lengthAdjust="spacingAndGlyphs">3</text>
<text id="xt1" x="289.33" y="500.50" font-size="11" fill="#1c1c1c" textLength="39.87" lengthAdjust="spacingAndGlyphs">Mean p</text>
<text id="xt2" x="329.04" y="507.30" font-size="8.0" fill="#1c1c1c" textLength="4.89" lengthAdjust="spacingAndGlyphs">T</text>
<text id="xt3" x="334.92" y="500.50" font-size="11" fill="#1c1c1c" textLength="33.81" lengthAdjust="spacingAndGlyphs">/dη dϕ</text>
<text id="ratlab" transform="rotate(-90)" x="-427.96" y="18.60" font-size="9.3" fill="#1c1c1c" textLength="61.24" lengthAdjust="spacingAndGlyphs">Ratio to ATLAS</text>
<text id="rivet" transform="rotate(-90)" x="-127.78" y="380.00" font-size="9.3" fill="#888" textLength="110.72" lengthAdjust="spacingAndGlyphs">Rivet 4.1.0, ≥ 3.7M events</text>
<text id="mcpl" transform="rotate(-90)" x="-314.09" y="380.90" font-size="9.3" fill="#888" textLength="147.68" lengthAdjust="spacingAndGlyphs">mcplots.cern.ch [arXiv:2401.10621]</text>
<text id="yl1" transform="rotate(-90)" x="-166.37" y="15.00" font-size="12" fill="#1c1c1c" textLength="18.68" lengthAdjust="spacingAndGlyphs">1/N</text>
<text id="yl2" transform="rotate(-90)" x="-149.19" y="17.90" font-size="8" fill="#1c1c1c" textLength="8.45" lengthAdjust="spacingAndGlyphs">ev</text>
<text id="yl3" transform="rotate(-90)" x="-137.31" y="15.00" font-size="12" fill="#1c1c1c" textLength="16.38" lengthAdjust="spacingAndGlyphs">dN</text>
<text id="yl4" transform="rotate(-90)" x="-121.65" y="17.90" font-size="8" fill="#1c1c1c" textLength="8.45" lengthAdjust="spacingAndGlyphs">ev</text>
<text id="yl5" transform="rotate(-90)" x="-113.80" y="15.00" font-size="12" fill="#1c1c1c" textLength="10.01" lengthAdjust="spacingAndGlyphs">/d</text>
<text id="yl6" transform="rotate(-90)" x="-99.48" y="15.00" font-size="12" fill="#1c1c1c" textLength="39.44" lengthAdjust="spacingAndGlyphs">mean p</text>
<text id="yl7" transform="rotate(-90)" x="-60.69" y="21.80" font-size="8.5" fill="#1c1c1c" textLength="5.19" lengthAdjust="spacingAndGlyphs">T</text>
<text id="yl8" transform="rotate(-90)" x="-52.67" y="15.00" font-size="12" fill="#1c1c1c" textLength="32.10" lengthAdjust="spacingAndGlyphs">[GeV]</text>
<text id="yl9" transform="rotate(-90)" x="-20.97" y="8.60" font-size="8" fill="#1c1c1c" textLength="4.45" lengthAdjust="spacingAndGlyphs">1</text>
</g>
<g id="legend">
<rect x="73.9" y="231" width="5.2" height="5.2" fill="#000"/>
<line x1="64.1" y1="246.8" x2="88.9" y2="246.8" stroke="#0000ff" stroke-width="0.9"/>
<path d="M76.50 244.00L79.00 249.60L74.00 249.60Z" fill="#0000ff"/>
<line x1="64.1" y1="259.7" x2="88.9" y2="259.7" stroke="#7f00b5" stroke-width="0.9"/>
<path d="M76.50 257.10L79.00 262.70L74.00 262.70Z" fill="#7f00b5"/>
<line x1="64.1" y1="272.8" x2="88.9" y2="272.8" stroke="#1786b0" stroke-width="0.9"/>
<path d="M76.50 270.10L79.00 275.70L74.00 275.70Z" fill="#1786b0"/>
</g>
</svg></body></html>
